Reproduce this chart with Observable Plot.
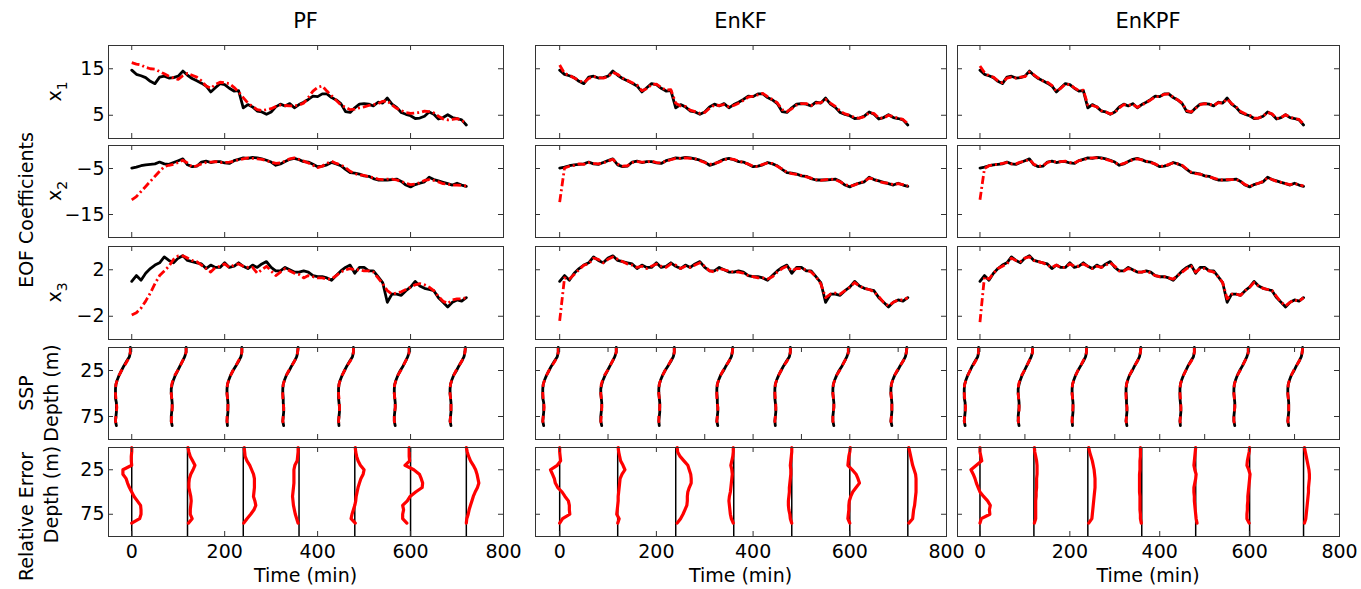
<!DOCTYPE html>
<html><head><meta charset="utf-8">
<script src="https://cdn.jsdelivr.net/npm/d3@7"></script>
<script src="https://cdn.jsdelivr.net/npm/@observablehq/plot@0.6"></script>
<style>
body{margin:0;background:#fff;}
#chart{position:relative;width:1361px;height:589px;overflow:hidden;font-family:"DejaVu Sans",sans-serif;background:#fff;}
#chart svg{position:absolute;overflow:visible;}
</style></head><body><div id="chart"></div>
<script>
// ---------- DATA ----------
const methods = ["PF", "EnKF", "EnKPF"];
const times = [0,10,20,30,40,50,60,70,80,90,100,110,120,130,140,150,160,170,180,190,200,210,220,230,240,250,260,270,280,290,300,310,320,330,340,350,360,370,380,390,400,410,420,430,440,450,460,470,480,490,500,510,520,530,540,550,560,570,580,590,600,610,620,630,640,650,660,670,680,690,700,710,720];

// EOF coefficient x1 (truth and estimates)
const truthX1 = [14.7,13.8,13.5,13.1,12.3,11.8,13.2,13.4,13.0,13.1, 13.4,14.5,13.6,12.9,12.4,11.9,11.3,10.0,10.9,11.8, 11.6,10.8,10.2,10.3,6.6,7.3,6.8,5.9,5.7,5.2, 5.7,6.8,7.4,7.0,7.5,6.6,7.3,7.8,8.4,9.1, 9.0,9.6,9.6,8.8,8.3,7.5,5.8,5.6,6.6,7.4, 7.5,7.4,7.0,7.8,7.6,8.7,7.4,6.7,5.6,5.2, 4.9,4.3,4.4,4.8,5.7,5.2,4.2,4.5,5.1,4.5, 4.3,4.0,2.9];
const pfX1 = [16.3,16.0,15.8,15.3,15.0,14.9,14.4,13.9,13.4,13.0, 12.7,13.5,14.0,13.6,13.2,12.4,11.3,10.8,11.6,12.1, 12.0,11.8,11.0,10.0,8.8,7.6,6.9,6.2,6.0,6.2, 6.4,6.9,7.2,7.1,7.0,7.0,7.2,7.6,8.8,10.2, 11.0,11.3,10.2,9.2,8.2,7.2,6.7,6.2,6.3,6.6, 6.8,7.1,7.3,7.5,8.0,8.1,7.2,6.5,6.0,5.6, 5.4,5.5,5.6,5.9,5.8,5.5,4.8,4.2,4.0,4.1, 4.3,3.8,3.5];
const enkfX1 = [15.8,14.0,13.6,13.0,12.5,12.0,12.9,13.3,13.1,13.0, 13.3,14.2,13.8,13.0,12.5,12.0,11.5,10.3,10.7,11.6, 11.7,11.0,10.4,10.5,7.6,7.0,6.9,6.1,5.8,5.4, 5.6,6.5,7.2,7.1,7.3,6.8,7.1,7.6,8.2,8.9, 9.1,9.4,9.7,9.0,8.4,7.7,6.2,5.8,6.4,7.2, 7.5,7.5,7.1,7.6,7.7,8.4,7.6,6.9,5.9,5.3, 5.0,4.5,4.4,4.7,5.5,5.4,4.4,4.4,5.0,4.7, 4.4,4.1,3.2];
const enkpfX1 = [15.6,14.2,13.5,13.2,12.4,12.0,13.0,13.2,13.0,13.2, 13.3,14.3,13.7,13.0,12.4,12.1,11.4,10.2,10.8,11.7, 11.6,10.9,10.3,10.4,7.2,7.1,6.8,6.0,5.7,5.3, 5.6,6.6,7.3,7.1,7.4,6.7,7.2,7.7,8.3,9.0, 9.0,9.5,9.6,8.9,8.3,7.6,6.0,5.7,6.5,7.3, 7.5,7.4,7.1,7.7,7.6,8.5,7.5,6.8,5.8,5.3, 5.0,4.4,4.4,4.8,5.6,5.3,4.3,4.5,5.1,4.6, 4.3,4.1,3.1];

// EOF coefficient x2
const truthX2 = [-4.9,-4.7,-4.4,-4.2,-4.1,-4.0,-3.6,-4.0,-4.1,-3.7, -3.3,-2.9,-4.2,-4.6,-4.5,-3.6,-3.4,-3.7,-3.5,-3.5, -3.8,-3.9,-3.3,-3.0,-2.7,-2.8,-2.6,-2.7,-2.9,-3.2, -3.6,-4.3,-4.0,-3.5,-3.0,-2.8,-3.1,-3.5,-3.6,-4.1, -4.6,-4.5,-4.2,-3.7,-4.0,-4.4,-5.2,-5.9,-6.0,-6.2, -6.6,-6.7,-7.2,-7.5,-7.5,-7.5,-7.4,-7.3,-7.8,-8.6, -9.0,-8.5,-8.2,-7.9,-6.9,-7.4,-7.7,-8.0,-8.3,-8.6, -8.2,-8.6,-8.9];
const pfX2 = [-11.8,-11.1,-10.0,-8.9,-7.8,-6.7,-5.6,-4.6,-4.3,-4.1, -3.7,-3.2,-3.8,-4.7,-4.4,-4.0,-3.7,-3.6,-3.5,-3.7, -3.7,-3.6,-3.4,-3.1,-2.9,-2.7,-2.8,-2.9,-3.0,-3.3, -3.6,-3.9,-3.8,-3.4,-2.9,-2.7,-3.0,-3.4,-3.8,-4.3, -4.8,-4.5,-3.9,-3.4,-3.9,-4.2,-4.8,-5.6,-6.1,-6.4, -6.5,-6.8,-7.0,-7.3,-7.4,-7.3,-7.3,-7.5,-7.8,-8.2, -8.5,-8.4,-8.1,-7.6,-7.4,-7.6,-7.9,-8.3,-8.4,-8.6, -8.6,-8.7,-8.8];
const enkfX2 = [-12.3,-4.9,-4.5,-4.3,-4.0,-4.1,-3.7,-3.9,-4.0,-3.8, -3.4,-3.0,-4.0,-4.5,-4.4,-3.7,-3.5,-3.6,-3.6,-3.4, -3.7,-3.8,-3.4,-3.1,-2.8,-2.8,-2.7,-2.8,-2.9,-3.3, -3.7,-4.1,-3.9,-3.6,-3.1,-2.9,-3.0,-3.4,-3.7,-4.0, -4.5,-4.6,-4.1,-3.8,-3.9,-4.5,-5.1,-5.8,-6.1,-6.3, -6.5,-6.8,-7.1,-7.4,-7.6,-7.4,-7.3,-7.4,-7.9,-8.5, -8.8,-8.6,-8.1,-7.8,-7.1,-7.3,-7.8,-8.1,-8.2,-8.5, -8.3,-8.5,-8.8];
const enkpfX2 = [-11.8,-5.0,-4.4,-4.2,-4.1,-3.9,-3.7,-4.0,-4.0,-3.6, -3.4,-3.0,-4.1,-4.5,-4.4,-3.7,-3.4,-3.6,-3.5,-3.4, -3.7,-3.8,-3.3,-3.1,-2.8,-2.7,-2.7,-2.8,-3.0,-3.3, -3.7,-4.2,-3.9,-3.5,-3.1,-2.9,-3.1,-3.4,-3.7,-4.0, -4.5,-4.5,-4.1,-3.8,-4.0,-4.3,-5.1,-5.8,-6.1,-6.2, -6.6,-6.8,-7.1,-7.4,-7.5,-7.4,-7.4,-7.4,-7.8,-8.5, -8.9,-8.5,-8.2,-7.8,-7.0,-7.4,-7.8,-8.0,-8.3,-8.5, -8.3,-8.5,-8.8];

// EOF coefficient x3
const truthX3 = [1.0,1.5,1.1,1.7,2.1,2.4,2.6,3.1,2.8,2.6, 3.0,3.2,2.8,2.7,2.6,2.5,2.1,2.4,2.2,2.2, 2.6,2.2,2.3,2.6,2.3,2.1,2.4,2.2,2.5,2.7, 2.2,1.9,1.9,2.2,2.0,1.8,1.8,1.9,1.8,1.5, 1.4,1.4,1.3,1.1,1.5,1.9,2.2,2.4,1.7,2.2, 2.2,1.9,1.9,1.4,0.9,-0.8,-0.1,-0.1,-0.2,0.2, 0.5,1.0,0.6,0.4,0.3,0.2,-0.4,-0.8,-1.2,-0.8, -0.6,-0.7,-0.4];
const pfX3 = [-1.9,-1.7,-1.3,-0.7,0.0,0.8,1.5,1.9,2.3,2.9, 3.2,3.2,3.0,2.8,2.7,2.4,2.1,1.8,2.2,2.3, 2.5,2.2,2.4,2.5,2.3,2.2,2.2,1.7,2.0,2.3, 1.9,1.5,1.8,2.1,1.9,1.7,1.6,1.3,1.5,1.4, 1.3,1.3,1.2,1.2,1.5,1.8,2.0,2.1,2.0,2.0, 1.9,1.9,1.8,1.3,0.8,0.2,-0.1,0.0,0.1,0.3, 0.5,0.7,0.8,0.7,0.5,0.2,-0.3,-0.7,-0.9,-0.6, -0.5,-0.5,-0.4];
const enkfX3 = [-2.4,1.3,1.2,1.6,2.0,2.4,2.5,3.0,2.9,2.6, 2.9,3.1,2.9,2.7,2.5,2.4,2.2,2.3,2.1,2.3, 2.5,2.3,2.2,2.5,2.4,2.1,2.3,2.2,2.4,2.6, 2.3,1.9,1.8,2.1,2.0,1.9,1.8,1.8,1.7,1.5, 1.4,1.3,1.3,1.2,1.4,1.8,2.1,2.3,1.9,2.1, 2.1,2.0,1.8,1.4,0.8,-0.4,-0.1,0.0,-0.1,0.2, 0.5,0.9,0.6,0.4,0.3,0.1,-0.3,-0.8,-1.1,-0.8, -0.6,-0.6,-0.4];
const enkpfX3 = [-2.5,1.4,1.2,1.7,2.1,2.3,2.5,3.0,2.8,2.7, 3.0,3.1,2.8,2.7,2.6,2.4,2.2,2.4,2.2,2.2, 2.5,2.3,2.3,2.5,2.3,2.1,2.3,2.2,2.4,2.6, 2.3,1.9,1.9,2.1,2.0,1.8,1.8,1.9,1.7,1.5, 1.4,1.4,1.3,1.2,1.5,1.8,2.1,2.3,1.8,2.1, 2.1,1.9,1.8,1.4,0.9,-0.5,-0.1,-0.1,-0.2,0.2, 0.5,0.9,0.6,0.4,0.3,0.2,-0.3,-0.8,-1.1,-0.8, -0.6,-0.7,-0.4];

// Profiles drawn at these times (min); depth grid (m)
const profTimes = [0,120,240,360,480,600,720];
const depths = [0,5,10,15,20,25,30,35,40,45,50,55,60,65,70,75,80,85];

// SSP profiles, displayed as offsets (in time units) from each profile time
const sspTruth = [
 [-3,-3,-5,-11,-17,-22,-27,-31,-34,-35,-35,-35,-33,-33,-33,-34,-35,-33],
 [-3,-3,-6,-11,-16,-21,-26,-30,-33,-35,-35,-34,-33,-33,-34,-35,-35,-33],
 [-3,-3,-5,-10,-16,-22,-27,-31,-34,-35,-35,-34,-33,-33,-33,-34,-35,-34],
 [-2,-3,-5,-10,-16,-21,-27,-31,-34,-35,-35,-34,-34,-33,-33,-34,-35,-33],
 [-3,-3,-5,-11,-17,-22,-27,-31,-34,-35,-35,-35,-34,-33,-33,-34,-35,-34],
 [-3,-3,-6,-11,-16,-22,-27,-31,-34,-35,-35,-34,-33,-33,-34,-35,-35,-33],
 [-2,-3,-5,-10,-16,-21,-27,-31,-34,-35,-35,-34,-33,-33,-33,-34,-35,-33]
];
const sspEstimate = [
 [-3,-3,-5,-10,-16,-22,-27,-31,-34,-35,-35,-34,-33,-32,-33,-34,-35,-33],
 [-3,-3,-6,-11,-16,-21,-27,-31,-34,-35,-35,-34,-33,-33,-33,-34,-35,-33],
 [-3,-3,-5,-11,-16,-22,-27,-31,-34,-35,-35,-34,-33,-33,-34,-35,-35,-34],
 [-2,-3,-5,-10,-16,-22,-27,-31,-34,-35,-35,-35,-34,-33,-33,-34,-35,-33],
 [-3,-3,-5,-10,-17,-22,-27,-31,-34,-35,-35,-34,-33,-33,-33,-34,-35,-33],
 [-3,-3,-5,-11,-16,-21,-27,-31,-34,-35,-35,-34,-33,-33,-34,-35,-35,-33],
 [-2,-3,-5,-10,-16,-22,-27,-31,-34,-35,-35,-34,-33,-33,-33,-34,-35,-33]
];

// Relative error profiles (offsets in time units from each profile time)
const errPF = [
 [0,0,-1,-1,0,-19,-19,-12,-9,-5,0,5,12,19,20,20,17,0],
 [1,3,6,11,16,12,7,4,3,3,5,7,8,7,6,6,10,2],
 [2,3,4,8,14,18,22,24,24,24,23,22,25,27,23,16,8,1],
 [-2,-2,-3,-4,-9,-11,-11,-11,-11,-12,-13,-14,-13,-12,-10,-8,-5,-2],
 [1,2,4,7,12,20,18,13,10,7,5,3,2,0,-3,-6,-8,1],
 [-3,-3,-3,-2,-12,7,19,23,26,25,11,-1,-7,-17,-15,-17,-17,-8],
 [0,2,5,9,15,20,23,25,27,24,19,15,12,9,6,4,1,0]
];
const errEnKF = [
 [0,0,1,2,-5,-19,-15,-11,-9,-4,5,11,18,20,20,21,6,0],
 [1,2,4,6,11,15,9,5,4,3,2,1,1,0,-1,-2,3,0],
 [3,4,9,17,25,28,31,32,32,28,25,24,24,23,19,15,10,3],
 [-1,-1,-2,-4,-6,-4,-3,-4,-5,-6,-7,-9,-10,-9,-8,-7,-5,-1],
 [0,0,-1,-2,-3,-2,-2,-3,-4,-5,-5,-6,-7,-7,-6,-4,-3,0],
 [1,0,-2,-3,-4,5,13,17,20,13,6,2,-1,-2,-2,-3,-4,0],
 [2,4,6,8,10,13,16,17,17,17,17,16,15,14,12,11,10,2]
];
const errEnKPF = [
 [0,0,2,4,-8,-20,-15,-11,-8,-4,0,8,17,23,21,22,3,0],
 [1,2,4,6,7,7,7,6,6,6,5,5,4,4,4,4,4,1],
 [2,4,7,10,12,14,15,16,16,16,15,14,13,12,11,10,9,2],
 [-3,-3,-3,-4,-4,-4,-5,-5,-5,-5,-5,-4,-4,-4,-4,-3,-3,-1],
 [0,-1,-2,-3,-4,-2,1,0,-2,-4,-4,-3,-3,-2,-1,0,1,3],
 [0,-1,-3,-5,-6,-2,1,0,-1,-2,-3,-4,-4,-5,-5,-6,-6,-1],
 [2,4,6,8,10,12,13,13,12,11,11,10,9,8,7,6,5,2]
];

// Axis tick values
const xTickLabels = [0,200,400,600,800];
const xTicksMain = [0,200,400,600];
const xTicksFine = [0,100,200,300,400,500,600,700];
const yTicksRows = [[5,15],[-15,-5],[-2,2],[25,75],[25,75]];
const yDomains = [[0,20],[-20,0],[-4,4],[0,100],[0,100]];
const xDomain = [-50,800];

// ---------- LAYOUT ----------
const chart = document.getElementById("chart");
const colBox = [[108,503],[535,946],[957,1339]];
const rowBox = [[45,138],[145,237],[246,339],[347,439],[447,536]];
const FONT = "DejaVu Sans";
const axisColor = "#333";

const series = vals => times.map((t,i)=>({t, v: vals[i]}));
const profiles = offs => offs.flatMap((p,k)=>p.map((o,j)=>({k, x: profTimes[k]+o, d: depths[j]})));

const truthRows = [truthX1, truthX2, truthX3];
const estRows = [[pfX1,enkfX1,enkpfX1],[pfX2,enkfX2,enkpfX2],[pfX3,enkfX3,enkpfX3]];
const errCols = [errPF, errEnKF, errEnKPF];

function dataMarks(ci, ri){
  if (ri < 3) {
    return [
      Plot.line(series(truthRows[ri]), {x:"t", y:"v", stroke:"#000", strokeWidth:2.8}),
      Plot.line(series(estRows[ri][ci]), {x:"t", y:"v", stroke:"#ff0000", strokeWidth:2.8, strokeDasharray:"8,3,2,3", strokeLinecap:"butt"})
    ];
  } else if (ri === 3) {
    return [
      Plot.line(profiles(sspTruth), {x:"x", y:"d", z:"k", stroke:"#000", strokeWidth:2.8}),
      Plot.line(profiles(sspEstimate), {x:"x", y:"d", z:"k", stroke:"#ff0000", strokeWidth:2.8, strokeDasharray:"7,5", strokeLinecap:"butt"})
    ];
  } else {
    return [
      Plot.ruleX(profTimes, {x:d=>d, stroke:"#000", strokeWidth:1.5}),
      Plot.line(profiles(errCols[ci]), {x:"x", y:"d", z:"k", stroke:"#ff0000", strokeWidth:3.2})
    ];
  }
}

for (let ri=0; ri<5; ri++) {
  for (let ci=0; ci<3; ci++) {
    const [x0,x1] = colBox[ci], [y0,y1] = rowBox[ri];
    const w = x1-x0, h = y1-y0;
    const mL = ci===0 ? 60 : 0, mB = ri===4 ? 30 : 0;
    const xt = (ri===3 && ci>0) ? xTicksFine : xTicksMain;
    const yt = yTicksRows[ri];
    const marks = [
      ...dataMarks(ci, ri),
      Plot.tickX(xt, {x:d=>d, insetBottom:h-5, stroke:axisColor}),
      Plot.tickX(xt, {x:d=>d, insetTop:h-5, stroke:axisColor}),
      Plot.tickY(yt, {y:d=>d, insetRight:w-5, stroke:axisColor}),
      Plot.tickY(yt, {y:d=>d, insetLeft:w-5, stroke:axisColor}),
      Plot.frame({stroke:axisColor, strokeWidth:1})
    ];
    if (ci===0) marks.push(Plot.axisY(yt, {anchor:"left", tickSize:0, tickPadding:4, fontSize:19, fill:"#000", label:null}));
    if (ri===4) marks.push(Plot.axisX(xTickLabels, {anchor:"bottom", tickSize:0, tickPadding:8, fontSize:19, fill:"#000", label:null}));
    const svg = Plot.plot({
      width: w+mL, height: h+mB,
      marginLeft: mL, marginRight: 0, marginTop: 0, marginBottom: mB,
      x: {domain: xDomain, axis: null, label: null},
      y: {domain: yDomains[ri], reverse: ri>=3, axis: null, label: null},
      style: {fontFamily: FONT, fontSize: "19px", color: "#000", background: "transparent", overflow: "visible"},
      marks
    });
    svg.style.left = (x0-mL)+"px";
    svg.style.top = y0+"px";
    svg.style.maxWidth = "none";
    chart.append(svg);
  }
}

// ---------- TEXT LABELS ----------
const overlay = d3.create("svg").attr("width",1361).attr("height",589)
  .style("left","0px").style("top","0px").style("pointer-events","none")
  .attr("font-family", FONT).attr("fill","#000");
const titleX = colBox.map(([a,b])=>(a+b)/2);
methods.forEach((m,i)=>{
  overlay.append("text").attr("x",titleX[i]).attr("y",28).attr("text-anchor","middle").attr("font-size",21).text(m);
  overlay.append("text").attr("x",titleX[i]).attr("y",582).attr("text-anchor","middle").attr("font-size",19).text("Time (min)");
});
function vlabel(x, y, txt, sub){
  const t = overlay.append("text").attr("transform",`translate(${x},${y}) rotate(-90)`)
    .attr("text-anchor","middle").attr("dy","0.35em").attr("font-size",19);
  t.append("tspan").text(txt);
  if (sub) t.append("tspan").attr("dy",6).attr("font-size",14).text(sub);
}
const rowMid = rowBox.map(([a,b])=>(a+b)/2);
vlabel(26, 210, "EOF Coefficients");
vlabel(54, rowMid[0], "x", "1");
vlabel(54, rowMid[1], "x", "2");
vlabel(54, rowMid[2], "x", "3");
vlabel(26, rowMid[3], "SSP");
vlabel(51, rowMid[3], "Depth (m)");
vlabel(26, rowMid[4]+25, "Relative Error");
vlabel(51, rowMid[4]+3, "Depth (m)");
chart.append(overlay.node());
</script></body></html>
